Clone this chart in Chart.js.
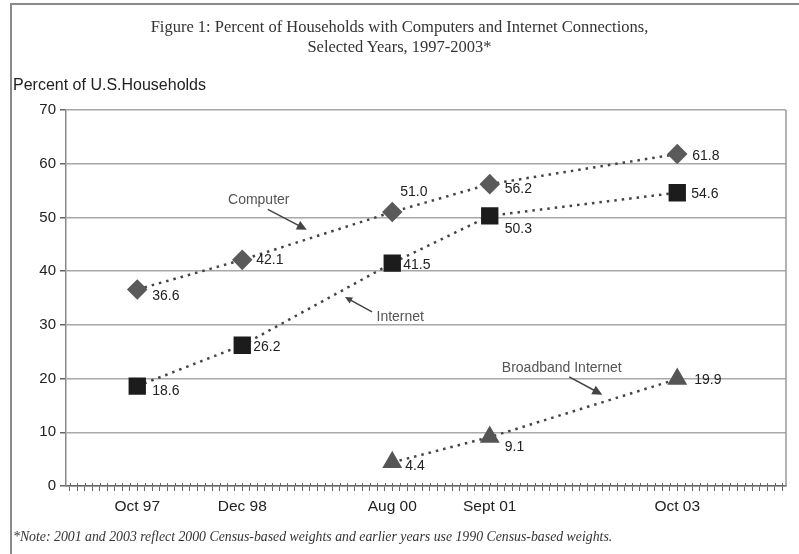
<!DOCTYPE html>
<html>
<head>
<meta charset="utf-8">
<script src="https://cdn.jsdelivr.net/npm/chart.js@4"></script>
<style>
  html, body { margin: 0; padding: 0; background: #fff; }
  #wrap { position: relative; width: 799px; height: 554px; overflow: hidden; }
  #frame { position: absolute; left: 10px; top: 3px; width: 800px; height: 560px;
           border-top: 2px solid #8a8a8a; border-left: 2px solid #8a8a8a; }
  canvas { position: absolute; left: 0; top: 0; }
  .title { position: absolute; left: 0; width: 799px; text-align: center;
           font-family: "Liberation Serif", serif; font-size: 16.5px; color: #333; }
  #ytitle { position: absolute; left: 13px; top: 76px; font-family: "Liberation Sans", Arial, sans-serif;
            font-size: 16px; color: #222; }
  #note { position: absolute; left: 13px; top: 529px; font-family: "Liberation Serif", serif;
          font-style: italic; font-size: 13.8px; color: #333; }
</style>
</head>
<body>
<div id="wrap">
  <div id="frame"></div>
  <canvas id="chart" width="799" height="554"></canvas>
  <div class="title" style="top:17px">Figure 1: Percent of Households with Computers and Internet Connections,</div>
  <div class="title" style="top:37px">Selected Years, 1997-2003*</div>
  <div id="ytitle">Percent of U.S.Households</div>
  <div id="note">*Note: 2001 and 2003 reflect 2000 Census-based weights and earlier years use 1990 Census-based weights.</div>
</div>
<script>
// months counted from Jan 1997
const surveyMonths = [9, 23, 43, 56, 81];
const surveyLabels = ['Oct 97', 'Dec 98', 'Aug 00', 'Sept 01', 'Oct 03'];

const computerValues = [36.6, 42.1, 51.0, 56.2, 61.8];
const internetValues = [18.6, 26.2, 41.5, 50.3, 54.6];
const broadbandMonths = [43, 56, 81];
const broadbandValues = [4.4, 9.1, 19.9];

// where each value label sits relative to its marker (px)
const computerLabelOffsets = [[15, 7], [14, 0], [8, -20], [15, 5], [15, 2]];
const internetLabelOffsets = [[15, 5], [11, 2], [11, 2], [15, 13], [14, 1]];
const broadbandLabelOffsets = [[13, 4], [15, 10], [17, 1]];

// series call-outs, in data units
const callouts = [
  { text: 'Computer', x: 25.2, y: 53.3, from: [26.4, 51.5], to: [31.6, 47.7], head: 11, align: 'center' },
  { text: 'Internet', x: 40.9, y: 31.5, from: [40.3, 32.4], to: [36.7, 35.2], head: 8, align: 'left' },
  { text: 'Broadband Internet', x: 65.6, y: 22.0, from: [66.6, 20.3], to: [71.0, 17.0], head: 11, align: 'center' }
];

function toPoints(xs, ys) {
  return xs.map((x, i) => ({ x: x, y: ys[i] }));
}

const valueLabels = {
  id: 'valueLabels',
  afterDatasetsDraw(chart) {
    const ctx = chart.ctx;
    ctx.save();
    ctx.font = '14px "Liberation Sans", Arial, sans-serif';
    ctx.fillStyle = '#222';
    ctx.textAlign = 'left';
    ctx.textBaseline = 'middle';
    chart.data.datasets.forEach((ds, di) => {
      const meta = chart.getDatasetMeta(di);
      meta.data.forEach((pt, i) => {
        const off = ds.labelOffsets[i];
        ctx.fillText(ds.data[i].y.toFixed(1), pt.x + off[0], pt.y + off[1]);
      });
    });
    ctx.restore();
  }
};

const calloutPlugin = {
  id: 'callouts',
  afterDatasetsDraw(chart) {
    const ctx = chart.ctx;
    const xs = chart.scales.x, ys = chart.scales.y;
    ctx.save();
    callouts.forEach(c => {
      const x1 = xs.getPixelForValue(c.from[0]), y1 = ys.getPixelForValue(c.from[1]);
      const x2 = xs.getPixelForValue(c.to[0]), y2 = ys.getPixelForValue(c.to[1]);
      const ang = Math.atan2(y2 - y1, x2 - x1);
      ctx.strokeStyle = '#444';
      ctx.lineWidth = 1.5;
      ctx.beginPath();
      ctx.moveTo(x1, y1);
      ctx.lineTo(x2 - Math.cos(ang) * c.head * 0.8, y2 - Math.sin(ang) * c.head * 0.8);
      ctx.stroke();
      ctx.fillStyle = '#444';
      ctx.beginPath();
      ctx.moveTo(x2, y2);
      ctx.lineTo(x2 - Math.cos(ang - 0.45) * c.head, y2 - Math.sin(ang - 0.45) * c.head);
      ctx.lineTo(x2 - Math.cos(ang + 0.45) * c.head, y2 - Math.sin(ang + 0.45) * c.head);
      ctx.closePath();
      ctx.fill();
      ctx.font = '14px "Liberation Sans", Arial, sans-serif';
      ctx.fillStyle = '#555';
      ctx.textAlign = c.align;
      ctx.textBaseline = 'middle';
      ctx.fillText(c.text, xs.getPixelForValue(c.x), ys.getPixelForValue(c.y));
    });
    ctx.restore();
  }
};

// right frame line and tick marks reaching a little above the x axis
const plotFrame = {
  id: 'plotFrame',
  beforeDatasetsDraw(chart) {
    const a = chart.chartArea, ctx = chart.ctx, xs = chart.scales.x;
    ctx.save();
    ctx.strokeStyle = '#999';
    ctx.lineWidth = 1.5;
    ctx.beginPath();
    ctx.moveTo(a.right, a.top);
    ctx.lineTo(a.right, a.bottom);
    ctx.stroke();
    ctx.strokeStyle = '#666';
    ctx.lineWidth = 1;
    ctx.beginPath();
    xs.ticks.forEach(t => {
      const px = Math.round(xs.getPixelForValue(t.value)) + 0.5;
      ctx.moveTo(px, a.bottom - 3);
      ctx.lineTo(px, a.bottom);
    });
    ctx.stroke();
    ctx.restore();
  }
};

const dotted = { borderDash: [2.5, 5], borderWidth: 2.5, borderColor: '#444', showLine: true, fill: false };

new Chart(document.getElementById('chart'), {
  type: 'scatter',
  data: {
    datasets: [
      Object.assign({
        label: 'Computer',
        data: toPoints(surveyMonths, computerValues),
        pointStyle: 'rectRot', pointRadius: 8.5,
        pointBackgroundColor: '#5a5a5a', pointBorderColor: '#5a5a5a',
        labelOffsets: computerLabelOffsets
      }, dotted),
      Object.assign({
        label: 'Internet',
        data: toPoints(surveyMonths, internetValues),
        pointStyle: 'rect', pointRadius: 10.5,
        pointBackgroundColor: '#1c1c1c', pointBorderColor: '#1c1c1c',
        labelOffsets: internetLabelOffsets
      }, dotted),
      Object.assign({
        label: 'Broadband Internet',
        data: toPoints(broadbandMonths, broadbandValues),
        pointStyle: 'triangle', pointRadius: 9,
        pointBackgroundColor: '#555', pointBorderColor: '#555',
        labelOffsets: broadbandLabelOffsets
      }, dotted)
    ]
  },
  options: {
    responsive: false,
    animation: false,
    layout: { padding: { top: 110, right: 12, left: 0, bottom: 0 } },
    plugins: { legend: { display: false }, tooltip: { enabled: false } },
    scales: {
      x: {
        type: 'linear',
        min: -0.5,
        max: 95.5,
        afterBuildTicks(scale) {
          const t = [];
          for (let m = 0; m <= 95; m++) t.push({ value: m });
          scale.ticks = t;
        },
        afterFit(scale) { scale.height = 68; },
        border: { display: true, color: '#666', width: 1.5 },
        grid: { drawOnChartArea: false, drawTicks: true, tickLength: 5, color: '#666', lineWidth: 1 },
        ticks: {
          autoSkip: false,
          maxRotation: 0,
          padding: 6,
          color: '#222',
          font: { family: '"Liberation Sans", Arial, sans-serif', size: 15.5 },
          callback(v) {
            const i = surveyMonths.indexOf(v);
            return i >= 0 ? surveyLabels[i] : '';
          }
        }
      },
      y: {
        min: 0,
        max: 70,
        afterFit(scale) { scale.width = 66; },
        border: { display: true, color: '#888', width: 1.5 },
        grid: { color: '#a8a8a8', lineWidth: 1.5, tickLength: 6, tickColor: '#666' },
        ticks: {
          stepSize: 10,
          padding: 4,
          color: '#222',
          font: { family: '"Liberation Sans", Arial, sans-serif', size: 15 }
        }
      }
    }
  },
  plugins: [plotFrame, valueLabels, calloutPlugin]
});
</script>
</body>
</html>
